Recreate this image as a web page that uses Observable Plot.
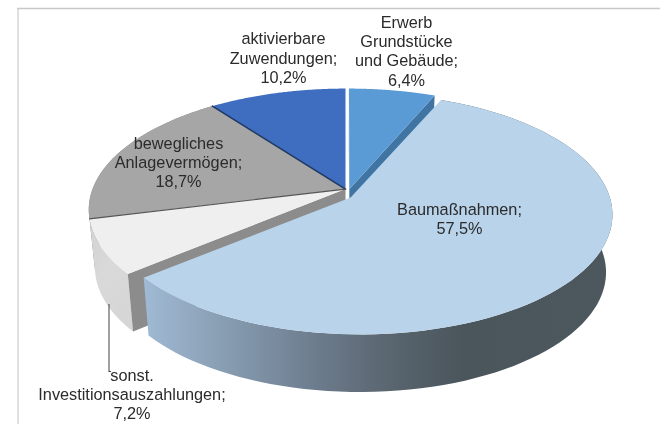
<!DOCTYPE html>
<html>
<head>
<meta charset="utf-8">
<script src="https://cdn.jsdelivr.net/npm/d3@7"></script>
<script src="https://cdn.jsdelivr.net/npm/@observablehq/plot@0.6"></script>
<style>
html,body{margin:0;padding:0;background:#fff;}
svg{display:block;}
</style>
</head>
<body>
<div id="chart"></div>
<script>
const names = ["Erwerb\nGrundstücke\nund Gebäude;", "Baumaßnahmen;", "sonst.\nInvestitionsauszahlungen;", "bewegliches\nAnlagevermögen;", "aktivierbare\nZuwendungen;"];
const shares = [6.4, 57.5, 7.2, 18.7, 10.2];

// pixel <-> pie-unit layout
const W = 660, H = 424, CX = 345, CY = 188.6, RX = 253, RY = 117.6;
const ux = p => (p - CX) / RX, uy = p => (CY - p) / RY;
const persp = 0.17, depth = 0.49, taper = 0.024;
function project(X, Y, z = 0) {
  const s = 1 / (1 + persp * Y);
  return {x: X * s * (1 - taper * z), y: Y * s - depth * z};
}
// slice angular extents from the values
let acc = 0;
const slices = shares.map(v => {
  const a0 = acc / 100 * 2 * Math.PI; acc += v;
  return {a0, a1: acc / 100 * 2 * Math.PI};
});
const radii = [1, 0.985, 1, 1, 1];
const offs = [[0.016, 0], [0.048, -0.036], [0, 0], [0, 0], [0, 0]];
const apexes = [[0.016, 0], [0.02, -0.07], [0, 0], [0, 0], [0, 0]];
function arc(i, z = 0) {
  const sl = slices[i], n = 90, pts = [];
  for (let k = 0; k <= n; k++) {
    const t = sl.a0 + (sl.a1 - sl.a0) * k / n;
    pts.push(project(radii[i] * Math.sin(t) + offs[i][0], radii[i] * Math.cos(t) + offs[i][1], z));
  }
  return pts;
}
const apex = (i, z = 0) => project(apexes[i][0], apexes[i][1], z);
const face = i => [apex(i), ...arc(i)];
const wall = i => [...arc(i), ...arc(i, 1).reverse()];
// cut face along the slice's start (e=0) or end (e=1) radius
function cut(i, e) {
  const top = arc(i), bot = arc(i, 1), k = e ? top.length - 1 : 0;
  return [apex(i), top[k], bot[k], apex(i, 1)];
}
const poly = (pts, fill) => Plot.line(pts, {x: "x", y: "y", fill, stroke: "none"});
const seg = (pts, stroke, strokeWidth) => Plot.line(pts, {x: "x", y: "y", stroke, strokeWidth});

const defs = () => {
  const d = d3.create("svg:defs");
  const g = d.append("linearGradient").attr("id", "bw");
  [[0, "#a0bad5"], [0.12, "#8fa6bc"], [0.38, "#6b7a8b"], [0.52, "#5a6670"], [0.68, "#4a555c"], [1, "#4c575e"]]
    .forEach(([o, c]) => g.append("stop").attr("offset", o).attr("stop-color", c));
  const h = d.append("linearGradient").attr("id", "gw").attr("x2", 0.6).attr("y2", 1);
  [[0, "#d2d2d2"], [0.5, "#d9d9d9"], [1, "#d6d6d6"]]
    .forEach(([o, c]) => h.append("stop").attr("offset", o).attr("stop-color", c));
  return d.node();
};

const labelPos = [[406, 50], [459, 218], [131.5, 393.5], [178, 161.5], [283, 57]];
const labels = names.map((n, i) => ({
  text: n + "\n" + String(shares[i]).replace(".", ",") + "%",
  x: ux(labelPos[i][0]), y: uy(labelPos[i][1])
}));

const chart = Plot.plot({
  width: W, height: H, margin: 0,
  x: {domain: [ux(0), ux(W)], range: [0, W], axis: null},
  y: {domain: [uy(0), uy(H)], range: [0, H], axis: null},
  style: {background: "#fff", filter: "blur(0.55px)"},
  marks: [
    defs,
    // panel border
    Plot.ruleY([uy(8)], {x1: ux(17), x2: ux(W), stroke: "#c8c8c8", strokeWidth: 1.5}),
    Plot.ruleX([ux(17.5)], {y1: uy(8), y2: uy(H), stroke: "#cccccc", strokeWidth: 1.2}),
    // back slices
    poly(wall(3), "#7f7f7f"),
    poly(face(3), "#a6a6a6"),
    poly(face(4), "#3f6dbf"),
    seg([apex(4), arc(4)[0]], "#1f3864", 1.6),
    poly(cut(0, 1), "#3f74a3"),
    poly(cut(0, 0), "#3f74a3"),
    poly(face(0), "#5b9bd5"),
    // sonst.
    poly(wall(2), "url(#gw)"),
    poly(cut(2, 0), "#8c8c8c"),
    poly(face(2), "#efefef"),
    seg([apex(3), arc(3)[0]], "#555", 1.2),
    // Baumaßnahmen
    poly(wall(1), "url(#bw)"),
    poly(face(1), "#b8d3ea"),
    // leader
    Plot.ruleX([ux(108.5)], {y1: uy(304), y2: uy(371), stroke: "#404040", strokeWidth: 1}),
    Plot.ruleY([uy(371)], {x1: ux(108.5), x2: ux(111), stroke: "#404040", strokeWidth: 1}),
    Plot.text(labels, {
      x: "x", y: "y", text: "text", fontSize: 16.3, lineHeight: 1.18,
      fontFamily: "Liberation Sans", fill: "#2b2b2b", lineAnchor: "middle", textAnchor: "middle"
    })
  ]
});
document.getElementById("chart").append(chart);
</script>
</body>
</html>
